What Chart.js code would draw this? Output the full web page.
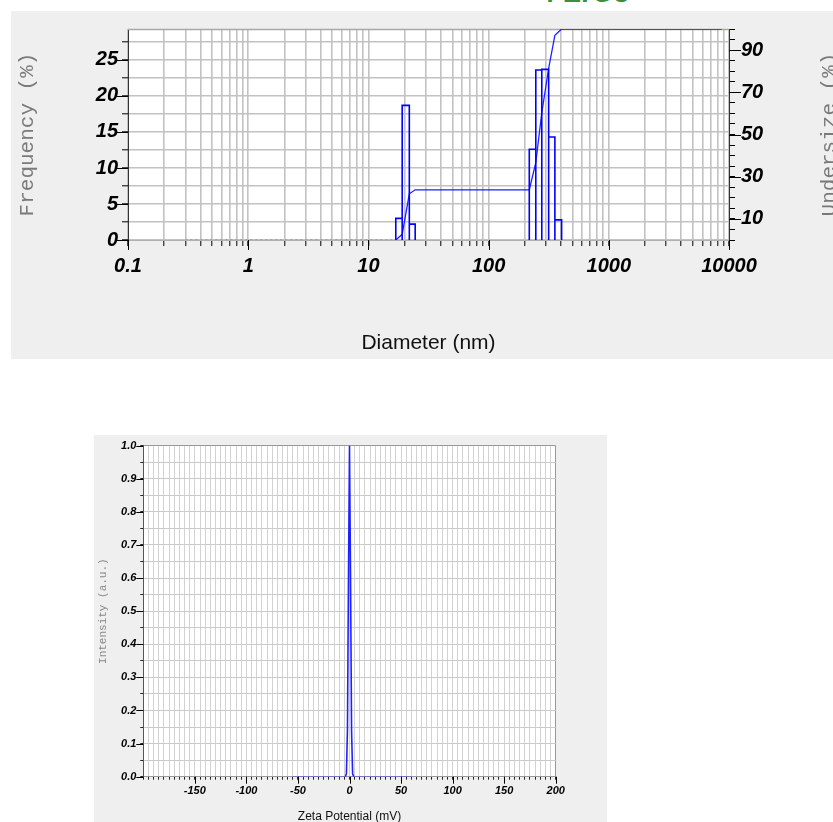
<!DOCTYPE html>
<html><head><meta charset="utf-8">
<script src="https://cdn.jsdelivr.net/npm/chart.js@4.4.1/dist/chart.umd.min.js"></script>
<style>
html,body{margin:0;padding:0;background:#fff;width:833px;height:822px;overflow:hidden;position:relative;}
#w1{position:absolute;left:11px;top:11px;width:822px;height:348px;background:#efefef;}
#w2{position:absolute;left:94px;top:435px;width:513px;height:400px;background:#efefef;}
#ttl{position:absolute;left:584px;top:-21px;transform:translateX(-50%);font:bold 28px "Liberation Sans",Arial,sans-serif;color:#3d8f3d;white-space:nowrap;line-height:28px;}
canvas{display:block;}
</style></head><body>
<div id="ttl">4-ZrO3</div>
<div id="w1"><canvas id="c1" width="822" height="348"></canvas></div>
<div id="w2"><canvas id="c2" width="513" height="400"></canvas></div>
<script>
// ---------- Particle size distribution (top chart) ----------
const diameterTicks = [0.1, 1, 10, 100, 1000, 10000];
const freqBinLeft  = [16.9, 19.1, 21.9, 218, 247, 277, 316, 356];
const freqBinRight = [19.1, 21.9, 24.5, 247, 277, 316, 356, 405];
const frequency    = [3.0, 18.7, 2.2, 12.6, 23.6, 23.7, 14.3, 2.8];
const zeroFreqDiameter = [0.3, 16.9];
const zeroFreqValue = [0, 0];
const undersizeDiameter = [16.9, 19.1, 21.9, 24.5, 218, 247, 277, 316, 356, 405, 8700];
const undersize = [0, 2.7, 21.9, 23.8, 23.8, 36.7, 60.3, 81.4, 97.0, 100, 100];
const freqLabels = [0, 5, 10, 15, 20, 25];
const undersizeLabels = [10, 30, 50, 70, 90];

// ---------- Zeta potential (bottom chart) ----------
const zetaPotential = [-55, -4, -3, -2, -1, 0, 1, 2, 3, 4, 60];
const zetaIntensity = [0, 0, 0.01, 0.14, 0.6, 1.0, 0.6, 0.14, 0.01, 0, 0];
const zetaLabels = [-150, -100, -50, 0, 50, 100, 150, 200];
const intensityLabels = [0, 0.1, 0.2, 0.3, 0.4, 0.5, 0.6, 0.7, 0.8, 0.9, 1.0];

const SANS = '"Liberation Sans", Arial, Helvetica, sans-serif';
const MONO = '"Liberation Mono", "Courier New", monospace';

// white plot area
const plotBg = {
  id: 'plotBg',
  beforeDraw(chart) {
    const a = chart.chartArea, ctx = chart.ctx;
    ctx.save(); ctx.fillStyle = '#fff';
    ctx.fillRect(a.left, a.top, a.right - a.left, a.bottom - a.top);
    ctx.restore();
  }
};

// long dash for labelled ticks
const majorTicks = {
  id: 'majorTicks',
  afterDraw(chart, args, opts) {
    const ctx = chart.ctx;
    ctx.save();
    ctx.strokeStyle = '#000';
    ctx.lineWidth = 1;
    for (const id in opts.len || {}) {
      const s = chart.scales[id];
      if (!s) continue;
      const len = opts.len[id];
      s.ticks.forEach(t => {
        if (!t.label) return;
        const p = Math.round(s.getPixelForValue(t.value)) + 0.5;
        ctx.beginPath();
        if (s.isHorizontal()) { ctx.moveTo(p, s.top); ctx.lineTo(p, s.top + len); }
        else if (s.position === 'left') { ctx.moveTo(s.right - len, p); ctx.lineTo(s.right, p); }
        else { ctx.moveTo(s.left, p); ctx.lineTo(s.left + len, p); }
        ctx.stroke();
      });
    }
    ctx.restore();
  }
};

// frame top line + rotated side title
const frameAndTitle = {
  id: 'frameAndTitle',
  beforeDatasetsDraw(chart, args, opts) {
    if (!opts.topLine) return;
    const a = chart.chartArea, ctx = chart.ctx;
    ctx.save();
    ctx.strokeStyle = opts.topLine;
    ctx.lineWidth = 1.5;
    ctx.beginPath();
    ctx.moveTo(a.left, Math.round(a.top) + 0.5);
    ctx.lineTo(a.right, Math.round(a.top) + 0.5);
    ctx.stroke();
    ctx.restore();
  },
  afterDraw(chart, args, opts) {
    if (!opts.sideText) return;
    const a = chart.chartArea, ctx = chart.ctx;
    ctx.save();
    ctx.translate(opts.sideX, (a.top + a.bottom) / 2);
    ctx.rotate(-Math.PI / 2);
    ctx.font = opts.sideFont;
    ctx.fillStyle = opts.sideColor;
    ctx.textAlign = 'center';
    ctx.textBaseline = 'middle';
    ctx.fillText(opts.sideText, 0, 0);
    ctx.restore();
  }
};

// build bar outlines from bins
const barOutline = [];
for (let i = 0; i < frequency.length; i++) {
  if (i > 0 && freqBinLeft[i] !== freqBinRight[i - 1]) barOutline.push({x: freqBinLeft[i], y: null});
  barOutline.push({x: freqBinLeft[i], y: 0}, {x: freqBinLeft[i], y: frequency[i]},
                  {x: freqBinRight[i], y: frequency[i]}, {x: freqBinRight[i], y: 0});
}
const zeroLine = zeroFreqDiameter.map((d, i) => ({x: d, y: zeroFreqValue[i]}));
const underLine = undersizeDiameter.map((d, i) => ({x: d, y: undersize[i]}));

const tickFontBig = {family: SANS, size: 20, style: 'italic', weight: 'bold'};

new Chart(document.getElementById('c1'), {
  type: 'scatter',
  data: {
    datasets: [
      {data: zeroLine, showLine: true, borderColor: 'rgba(60,60,255,0.6)', borderWidth: 1, borderDash: [2, 3], pointRadius: 0, yAxisID: 'y'},
      {data: barOutline, showLine: true, spanGaps: false, borderColor: '#0000ff', borderWidth: 1.6, pointRadius: 0, yAxisID: 'y'},
      {data: underLine, showLine: true, borderColor: '#1f1fff', borderWidth: 1.3, pointRadius: 0, yAxisID: 'y2'}
    ]
  },
  options: {
    responsive: false, animation: false,
    layout: {padding: {top: 16, left: 0, right: 0, bottom: 0}},
    plugins: {
      legend: {display: false}, tooltip: {enabled: false},
      majorTicks: {len: {x: 10, y: 11, y2: 12}},
      frameAndTitle: {topLine: '#a8a8a8', sideText: 'Undersize (%)', sideX: 818,
        sideFont: '21px ' + MONO, sideColor: '#7a7a7a'}
    },
    scales: {
      x: {
        type: 'logarithmic', position: 'bottom', min: 0.1, max: 10000,
        afterBuildTicks: s => {
          s.ticks = s.ticks.filter(t => {
            const m = t.value / Math.pow(10, Math.floor(Math.log10(t.value) + 1e-9));
            return Math.abs(m - 1.5) > 1e-6;
          });
        },
        afterFit: s => { s.height = 119; },
        ticks: {autoSkip: false, maxRotation: 0, minRotation: 0, padding: 8, color: '#000', font: tickFontBig,
          callback: v => diameterTicks.some(d => Math.abs(d - v) / d < 1e-6) ? String(v) : ''},
        grid: {color: '#c2c2c2', lineWidth: 1.6, tickLength: 6, tickColor: '#000', tickWidth: 1},
        border: {color: '#b0b0b0', width: 1},
        title: {display: true, text: 'Diameter (nm)', color: '#111', font: {family: SANS, size: 21}, padding: {top: 0, bottom: 3}}
      },
      y: {
        type: 'linear', position: 'left', min: 0, max: 29.3,
        afterFit: s => { s.width = 117; },
        ticks: {stepSize: 2.5, includeBounds: false, autoSkip: false, padding: 4, color: '#000', font: tickFontBig,
          callback: v => freqLabels.includes(v) ? String(v) : ''},
        grid: {color: '#c2c2c2', lineWidth: 1.6, tickLength: 6, tickColor: '#000', tickWidth: 1},
        border: {color: '#333', width: 1},
        title: {display: true, text: 'Frequency (%)', color: '#7a7a7a', font: {family: MONO, size: 21}, padding: {top: 4, bottom: 0}}
      },
      y2: {
        type: 'linear', position: 'right', min: 0, max: 100,
        afterFit: s => { s.width = 104; },
        ticks: {stepSize: 5, autoSkip: false, padding: 6, color: '#000', font: tickFontBig,
          callback: v => undersizeLabels.includes(v) ? String(v) : ''},
        grid: {drawOnChartArea: false, tickLength: 6, tickColor: '#000', tickWidth: 1},
        border: {color: '#333', width: 1}
      }
    }
  },
  plugins: [plotBg, majorTicks, frameAndTitle]
});

const tickFontSmall = {family: SANS, size: 11, style: 'italic', weight: 'bold'};
const zetaLine = zetaPotential.map((z, i) => ({x: z, y: zetaIntensity[i]}));

new Chart(document.getElementById('c2'), {
  type: 'scatter',
  data: {
    datasets: [{
      data: zetaLine, showLine: true, borderWidth: 1.6, pointRadius: 0, borderColor: '#2020ff',
      segment: {borderColor: c => (c.p0.parsed.y === 0 && c.p1.parsed.y === 0) ? 'rgba(70,70,255,0.55)' : '#2020ff'}
    }]
  },
  options: {
    responsive: false, animation: false,
    layout: {padding: {top: 9.5, left: 0, right: 51.3, bottom: 0}},
    plugins: {
      legend: {display: false}, tooltip: {enabled: false},
      majorTicks: {len: {x: 7, y: 7}}
    },
    scales: {
      x: {
        type: 'linear', position: 'bottom', min: -200, max: 200,
        afterFit: s => { s.height = 58.3; },
        ticks: {stepSize: 5, autoSkip: false, maxRotation: 0, padding: 5, color: '#000', font: tickFontSmall,
          callback: v => zetaLabels.includes(v) ? String(v) : ''},
        grid: {color: c => (c.tick && (c.tick.value === 200 || c.tick.value === -200)) ? '#999' : '#d3d3d3',
          lineWidth: 1, tickLength: 3, tickColor: '#222', tickWidth: 1},
        border: {color: '#999', width: 1},
        title: {display: true, text: 'Zeta Potential (mV)', color: '#111', font: {family: SANS, size: 12}, padding: {top: 0, bottom: 11}}
      },
      y: {
        type: 'linear', position: 'left', min: 0, max: 1,
        afterFit: s => { s.width = 49.3; },
        ticks: {stepSize: 0.05, autoSkip: false, padding: 4, color: '#000', font: tickFontSmall,
          callback: v => intensityLabels.some(l => Math.abs(l - v) < 1e-6) ? v.toFixed(1) : ''},
        grid: {color: c => (c.tick && Math.abs(c.tick.value - 1) < 1e-6) ? '#999' : '#cacaca',
          lineWidth: 1, tickLength: 3, tickColor: '#222', tickWidth: 1},
        border: {color: '#555', width: 1},
        title: {display: true, text: 'Intensity (a.u.)', color: '#888', font: {family: MONO, size: 11}, padding: {top: 2, bottom: 0}}
      }
    }
  },
  plugins: [plotBg, majorTicks]
});
</script>
</body></html>
